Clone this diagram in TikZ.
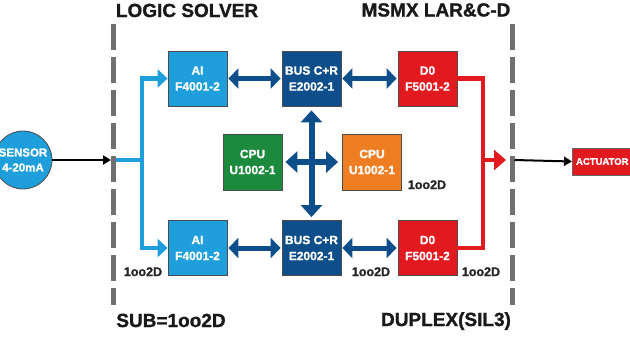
\documentclass[tikz,border=0pt]{standalone}
\usepackage{fontspec}
\setmainfont{Liberation Sans}[BoldFeatures={FakeBold=1.2}]
\usetikzlibrary{arrows.meta}
\definecolor{lblue}{HTML}{1E9FDC}
\definecolor{dblue}{HTML}{0E4E8A}
\definecolor{cred}{HTML}{E2191E}
\definecolor{cgreen}{HTML}{1C8A3C}
\definecolor{corange}{HTML}{EF7E22}
\definecolor{dgray}{HTML}{707070}
\tikzset{
  modbox/.style={draw=black!70, line width=0.8pt, minimum width=59pt, minimum height=55pt,
    inner sep=0pt, text=white, font=\bfseries\fontsize{12}{16}\selectfont, align=center},
  heading/.style={font=\bfseries\fontsize{19}{22}\selectfont, text=black!90, inner sep=0pt, anchor=base},
  vote/.style={font=\bfseries\fontsize{12.5}{14}\selectfont, text=black!85, inner sep=0pt, anchor=base},
  sepline/.style={draw=dgray, line width=5pt, dash pattern=on 26pt off 7pt},
  feed/.style={draw=lblue, line width=4.5pt},
  feedarrow/.style={feed, -{Triangle[length=10pt,width=18pt]}},
  outfeed/.style={draw=cred, line width=4.5pt},
  outarrow/.style={outfeed, -{Triangle[length=12pt,width=20pt]}},
  busarrow/.style={draw=dblue, line width=5pt, {Triangle[length=10pt,width=20pt]}-{Triangle[length=10pt,width=20pt]}},
  crossarrow/.style={draw=dblue, line width=6pt, {Triangle[length=12pt,width=21pt]}-{Triangle[length=12pt,width=21pt]}},
  sigarrow/.style={draw=black, line width=2pt, -{Triangle[length=8pt,width=9pt]}},
}
\begin{document}
\begin{tikzpicture}[x=1pt,y=-1pt]
\useasboundingbox (0,0) rectangle (630,338);

% separators
\draw[sepline] (113,24) coordinate (ltop) -- (113,305) coordinate (lbot);
\draw[sepline] (512,24) coordinate (rtop) -- (512,305) coordinate (rbot);

% headings
\node[heading] (hls) at (187,17) {LOGIC SOLVER};
\node[heading] (hms) at (436,16.5) {MSMX LAR\&C-D};
\node[heading] (hsub) at (171,327) {SUB=1oo2D};
\node[heading] (hdup) at (446,326) {DUPLEX(SIL3)};

% modules
\node[modbox, fill=lblue] (ai1) at (197.5,78.5) {AI\\F4001-2};
\node[modbox, fill=lblue] (ai2) at (197.5,248) {AI\\F4001-2};
\node[modbox, fill=dblue] (bus1) at (311.5,78.5) {BUS C+R\\E2002-1};
\node[modbox, fill=dblue] (bus2) at (311.5,248) {BUS C+R\\E2002-1};
\node[modbox, fill=cred] (do1) at (427.5,78.5) {D0\\F5001-2};
\node[modbox, fill=cred] (do2) at (427.5,248) {D0\\F5001-2};
\node[modbox, fill=cgreen, minimum height=56pt] (cpu1) at (252.5,162) {CPU\\U1002-1};
\node[modbox, fill=corange, minimum height=56pt] (cpu2) at (372,162) {CPU\\U1002-1};

% sensor and actuator
\node[circle, draw=black!70, line width=0.8pt, fill=lblue, minimum size=58pt, inner sep=0pt,
  text=white, font=\bfseries\fontsize{11.5}{15}\selectfont, align=center] (sensor) at (23,160) {SENSOR\\4-20mA};
\node[draw=black!60, line width=0.6pt, fill=cred, minimum width=60pt, minimum height=27pt, inner sep=0pt,
  text=white, font=\bfseries\fontsize{9.5}{11}\selectfont, anchor=west] (act) at (572,161.5) {ACTUATOR};

% input side
\coordinate (lin) at (115.5,160);
\coordinate (bx) at (142,160);
\draw[sigarrow] (sensor.east) -- (111,160) coordinate (lhit);
\draw[feed] (lin) -- (bx);
\draw[feedarrow] (bx) |- (ai1.west);
\draw[feedarrow] (bx) |- (ai2.west);

% bus links
\draw[busarrow, shorten <=1pt, shorten >=1pt] (ai1.east) -- (bus1.west);
\draw[busarrow, shorten <=1pt, shorten >=1pt] (bus1.east) -- (do1.west);
\draw[busarrow, shorten <=1pt, shorten >=1pt] (ai2.east) -- (bus2.west);
\draw[busarrow, shorten <=1pt, shorten >=1pt] (bus2.east) -- (do2.west);
\draw[crossarrow, shorten <=4pt, shorten >=3pt] (bus1.south) -- (bus2.north);
\draw[crossarrow, shorten <=3pt, shorten >=4pt] (cpu1.east) -- (cpu2.west);

% output side
\coordinate (rx) at (483,160);
\draw[outfeed] (do1.east) -- (rx |- do1.east) -- (rx |- do2.east) -- (do2.east);
\draw[outarrow] (rx) -- (506,160) coordinate (rhit);
\draw[sigarrow] (514.5,160) coordinate (rout) -- (act.west);

% voting labels
\node[vote] (v1) at (143,276) {1oo2D};
\node[vote] (v2) at (427,189) {1oo2D};
\node[vote] (v3) at (371,276) {1oo2D};
\node[vote] (v4) at (481,276) {1oo2D};
\end{tikzpicture}
\end{document}
